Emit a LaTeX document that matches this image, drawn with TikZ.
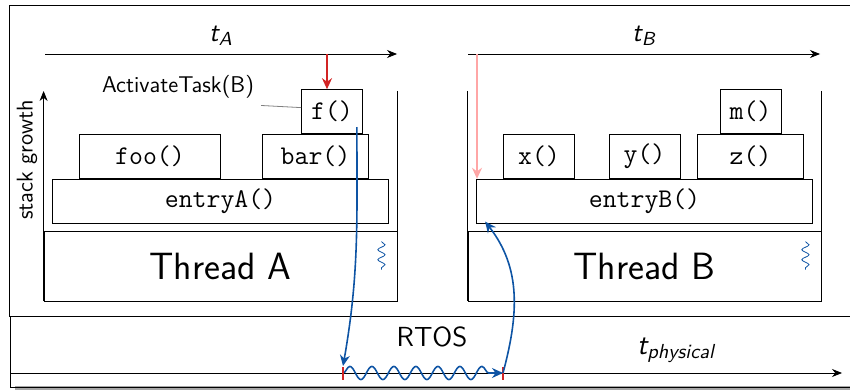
\documentclass[tikz,border=0pt]{standalone}
\usepackage{tikz}
\usetikzlibrary{arrows.meta,positioning,calc,decorations.pathmorphing}
\definecolor{rtblue}{RGB}{14,84,164}
\definecolor{rtred}{RGB}{210,36,36}

\begin{document}
\begin{tikzpicture}[
		x=0.5pt, y=-0.5pt,
		every node/.style={font=\sffamily\fontsize{11.4}{13}\selectfont},
		callbox/.style={draw, inner sep=0pt, minimum height=22pt, font=\ttfamily\fontsize{13.5}{16}\selectfont},
		threadbox/.style={draw, inner sep=0pt, minimum width=176.5pt, minimum height=35pt, font=\sffamily\fontsize{19}{22}\selectfont},
		bigtext/.style={font=\sffamily\fontsize{13.8}{16}\selectfont},
		timelabel/.style={font=\sffamily\fontsize{13.5}{16}\selectfont\itshape},
		taxis/.style={-{Stealth[length=5pt,width=4pt]}},
		activate/.style={-{Stealth[length=5.5pt,width=5pt]}, very thick, rtred},
		ghost/.style={activate, red!35},
		switch/.style={-{Stealth[length=5.5pt,width=5pt]}, thick, rtblue},
		wavy/.style={switch, decorate, decoration={snake, amplitude=3.3pt, segment length=11pt, post length=5pt}},
		squiggle/.style={rtblue, decorate, decoration={snake, amplitude=1.8pt, segment length=5pt}},
		tickmark/.style={very thick, rtred}
	]
		\useasboundingbox (0,0) rectangle (850,390);
		\fill[gray!70] (15,386) rectangle (870,391);
		\draw (9,5) rectangle (870,316);
		\draw (10,316) rectangle (870,387);

		\node[threadbox]
			(threadA) at (220.5,266)
			{Thread A};
		\node[callbox, minimum width=168pt, above=3.5pt of threadA]
			(entryA)
			{entryA()};
		\node[callbox, minimum width=70.5pt, above right=0pt and 13.5pt of entryA.north west]
			(foo)
			{foo()};
		\node[callbox, minimum width=53pt, above left=0pt and 10pt of entryA.north east]
			(bar)
			{bar()};
		\node[callbox, minimum width=30.5pt, above left=0pt and 3pt of bar.north east]
			(f)
			{f()};

		\node[threadbox]
			(threadB) at (644.5,266)
			{Thread B};
		\node[callbox, minimum width=168pt, above=3.5pt of threadB]
			(entryB)
			{entryB()};
		\node[callbox, minimum width=35.5pt, above right=0pt and 13.5pt of entryB.north west]
			(x)
			{x()};
		\node[callbox, minimum width=35.5pt, above=0pt of entryB.north]
			(y)
			{y()};
		\node[callbox, minimum width=53pt, above left=0pt and 4.5pt of entryB.north east]
			(z)
			{z()};
		\node[callbox, minimum width=30.5pt, above=0pt of z]
			(m)
			{m()};

		\coordinate (stacktop) at (0,91);
		\draw[taxis] (threadA.south west) -- (threadA.west |- stacktop);
		\draw (threadA.north east |- stacktop) -- (threadA.south east);
		\draw (threadB.north west |- stacktop) -- (threadB.south west);
		\draw (threadB.north east |- stacktop) -- (threadB.south east);
		\node[rotate=90] (growth) at (27,160) {stack growth};

		\draw[squiggle] ($(threadA.north east)+(-16,11)$) -- ++(0,28);
		\draw[squiggle] ($(threadB.north east)+(-16,11)$) -- ++(0,28);

		\coordinate (tAstart) at (45,54);
		\coordinate (tAend) at (397,54);
		\coordinate (tBstart) at (468,54);
		\coordinate (tBend) at (820,54);
		\draw[taxis] (tAstart) -- (tAend);
		\draw[taxis] (tBstart) -- (tBend);
		\node[timelabel] (tA) at (221,36) {t\textsubscript{A}};
		\node[timelabel] (tB) at (644,36) {t\textsubscript{B}};

		\coordinate (callA) at (327,54);
		\coordinate (callB) at (477,54);
		\draw[activate] (callA) -- (callA |- f.north);
		\draw[ghost] (callB) -- (callB |- entryB.north);
		\node (actlabel) at (178,87) {ActivateTask(B)};
		\draw[gray] (actlabel.south east) -- ($(f.west)+(0,-4)$);

		\node[bigtext] (rtos) at (432,337) {RTOS};
		\coordinate (tPstart) at (10,373);
		\coordinate (tPend) at (842,373);
		\coordinate (switchA) at (343,373);
		\coordinate (switchB) at (503,373);
		\draw[taxis] (tPstart) -- (tPend);
		\node[timelabel, font=\sffamily\fontsize{14.5}{17}\selectfont\itshape] (tphys) at (676,350) {t\textsubscript{physical}};

		\draw[wavy] (switchA) -- (switchB);
		\draw[tickmark] ($(switchA)+(0,-6)$) -- ($(switchA)+(0,7)$);
		\draw[tickmark] ($(switchB)+(0,-6)$) -- ($(switchB)+(0,7)$);
		\draw[switch] ($(f.south east)+(-6,-7)$) to[out=-90, in=80] ($(switchA)+(0,-7)$);
		\draw[switch] (switchB) to[out=75, in=-52] ($(entryB.south west)+(9,-2)$);
	\end{tikzpicture}
\end{document}
